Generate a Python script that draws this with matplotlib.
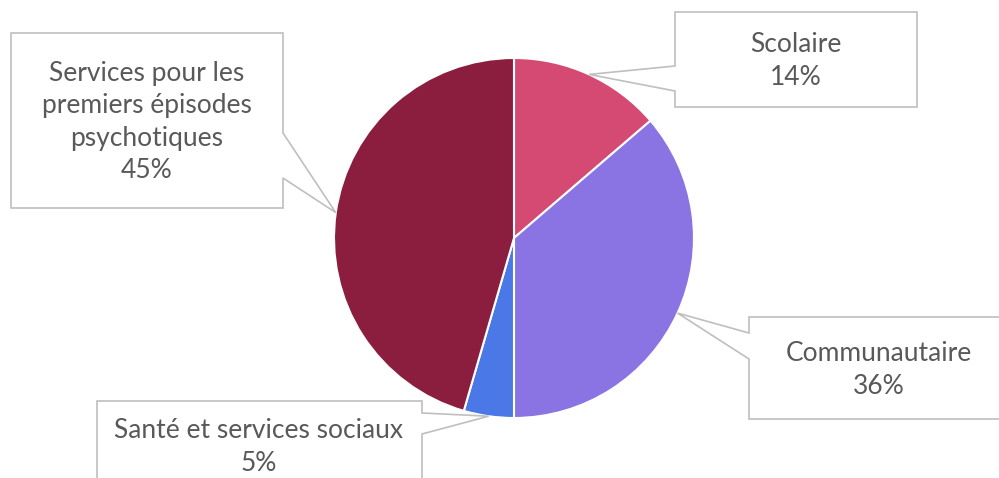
import numpy as np
import matplotlib
matplotlib.use("Agg")
import matplotlib.pyplot as plt
from matplotlib.patches import Polygon

labels = ["Scolaire", "Communautaire", "Santé et services sociaux",
          "Services pour les\npremiers épisodes\npsychotiques"]
values = [13.7, 36.3, 4.5, 45.5]
pct_labels = ["14%", "36%", "5%", "45%"]
colors = ["#D44A72", "#8A74E3", "#4A78E6", "#8B1E3F"]

W, H = 999, 478
fig = plt.figure(figsize=(W / 100, H / 100), dpi=100)
ax = fig.add_axes([0, 0, 1, 1])

def py(y):
    # image pixel row -> data y (y up)
    return H - y

cx, cy, R = 514, py(238), 180
wedges, _ = ax.pie(values, colors=colors, startangle=90, counterclock=False,
                   center=(cx, cy), radius=R, frame=True,
                   wedgeprops=dict(edgecolor="white", linewidth=1.5))

# callout boxes: (x0, top, x1, bottom) in image px, side of pointer, pointer base rows, text centre
boxes = [
    ((675, 12, 917, 107), "left", (66, 91), (796, 61)),
    ((749, 317, 1009, 419), "left", (333, 359), (879, 370)),
    ((97, 401, 422, 495), "right", (413, 434), (259, 447)),
    ((11, 33, 283, 208), "right", (133, 178), (147, 122)),
]

for w, lab, pct, (box, side, base, tc) in zip(wedges, labels, pct_labels, boxes):
    mid = np.radians((w.theta1 + w.theta2) / 2)
    tip = (cx + R * np.cos(mid), cy + R * np.sin(mid))
    x0, t, x1, b = box
    if side == "left":
        pts = [(x0, py(t)), (x1, py(t)), (x1, py(b)), (x0, py(b)),
               (x0, py(base[1])), tip, (x0, py(base[0]))]
    else:
        pts = [(x0, py(t)), (x1, py(t)), (x1, py(base[0])), tip,
               (x1, py(base[1])), (x1, py(b)), (x0, py(b))]
    ax.add_patch(Polygon(pts, closed=True, facecolor="white",
                         edgecolor="#BFBFBF", linewidth=1.2, zorder=3))
    ax.text(tc[0], py(tc[1]), lab + "\n" + pct, ha="center", va="center",
            fontsize=19, color="#595959", family="Lato", linespacing=1.38,
            zorder=4)

ax.set_xlim(0, W)
ax.set_ylim(0, H)
ax.set_aspect("auto")
ax.axis("off")
fig.savefig("out.png", dpi=100)
